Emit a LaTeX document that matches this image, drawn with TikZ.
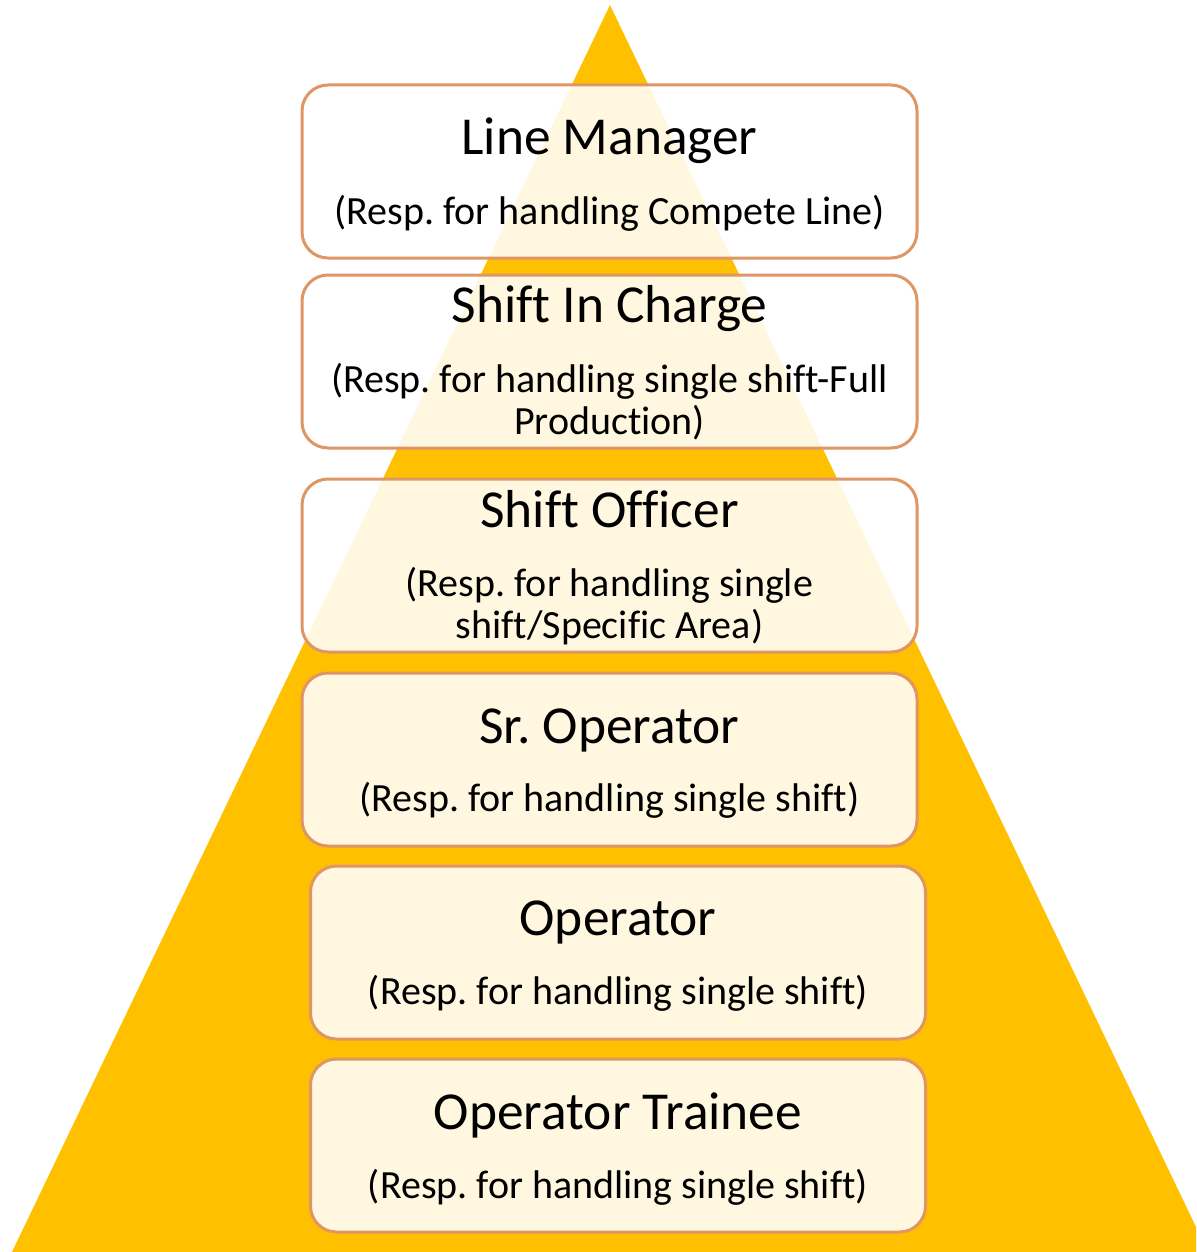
\documentclass[tikz,border=0pt]{standalone}
\usepackage{fontspec}
\setmainfont[Ligatures=NoCommon]{Carlito}
\frenchspacing
\begin{document}
\begin{tikzpicture}[x=0.5pt,y=-0.5pt,
  box/.style={draw=boxline, line width=1.5pt, rounded corners=13pt, fill=white, fill opacity=0.88, minimum width=307.5pt, minimum height=86.5pt, inner sep=0pt},
  ttl/.style={font=\fontsize{26.7}{32}\selectfont, inner sep=0pt},
  sub/.style={font=\fontsize{20}{21}\selectfont, inner sep=0pt, align=center}]
\definecolor{tri}{RGB}{255,192,0}
\definecolor{boxline}{RGB}{222,150,100}
\useasboundingbox (0,0) rectangle (1196,1252);
\clip (0,0) rectangle (1196,1252);
\fill[tri] (610,5) -- (12,1252) -- (1208,1252) -- cycle;
\node[box] (b1) at (609.5,171.5) {};
\node[box] (b2) at (609.5,361.5) {};
\node[box] (b3) at (609.5,565.5) {};
\node[box] (b4) at (609.5,759.5) {};
\node[box] (b5) at (618,952.5) {};
\node[box] (b6) at (618,1145.5) {};
\node[ttl] (t1) at (609.5,141) {Line Manager};
\node[sub] (s1) at (609.5,213) {(Resp. for handling Compete Line)};
\node[ttl] (t2) at (609.5,309) {Shift In Charge};
\node[sub] (s2) at (609.5,402) {(Resp. for handling single shift-Full\\Production)};
\node[ttl] (t3) at (609.5,509) {Shift Officer};
\node[sub] (s3) at (609.5,606) {(Resp. for handling single\\shift/Specific Area)};
\node[ttl] (t4) at (609.5,730) {Sr. Operator};
\node[sub] (s4) at (609.5,800) {(Resp. for handling single shift)};
\node[ttl] (t5) at (618,922) {Operator};
\node[sub] (s5) at (618,993) {(Resp. for handling single shift)};
\node[ttl] (t6) at (618,1115) {Operator Trainee};
\node[sub] (s6) at (618,1187) {(Resp. for handling single shift)};
\end{tikzpicture}
\end{document}
